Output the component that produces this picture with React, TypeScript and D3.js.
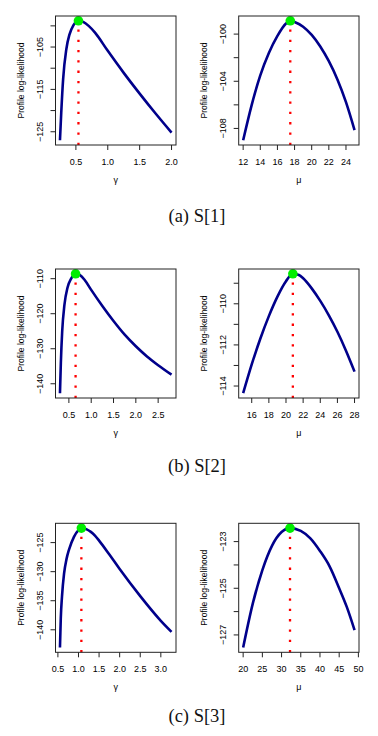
import React from 'react';
import * as d3 from 'd3';

// S[1] profile of gamma
const gammaS1 = [0.25, 0.27, 0.30, 0.35, 0.40, 0.46, 0.54, 0.62, 0.70, 0.80, 1.00, 1.25, 1.50, 1.75, 2.00];
const llGammaS1 = [-127.0, -120.5, -112.5, -105.5, -102.0, -99.9, -98.8, -99.1, -100.0, -101.6, -105.9, -111.1, -116.0, -120.7, -125.2];
// S[1] profile of mu
const muS1 = [12, 13, 14, 15, 16, 17, 17.5, 18, 19, 20, 21, 22, 23, 24, 25];
const llMuS1 = [-109.0, -106.0, -103.5, -101.6, -100.15, -99.1, -98.87, -98.97, -99.37, -100.07, -101.05, -102.3, -103.85, -105.77, -108.14];

// S[2]
const gammaS2 = [0.30, 0.32, 0.35, 0.40, 0.47, 0.55, 0.65, 0.75, 0.85, 1.0, 1.25, 1.5, 1.75, 2.0, 2.25, 2.5, 2.8];
const llGammaS2 = [-142.7, -134.0, -125.0, -117.5, -112.5, -110.0, -108.6, -109.0, -110.3, -113.2, -117.8, -122.1, -126.0, -129.3, -132.2, -134.7, -137.4];
const muS2 = [15, 16, 17, 18, 19, 20, 20.8, 21.5, 22, 23, 24, 25, 26, 27, 28];
const llMuS2 = [-114.35, -112.95, -111.7, -110.6, -109.65, -108.9, -108.54, -108.6, -108.76, -109.25, -109.86, -110.56, -111.36, -112.28, -113.3];

// S[3]
const gammaS3 = [0.55, 0.57, 0.60, 0.65, 0.71, 0.77, 0.89, 1.0, 1.07, 1.2, 1.3, 1.4, 1.5, 1.75, 2.0, 2.5, 3.0, 3.26];
const llGammaS3 = [-143.05, -138.0, -134.2, -130.3, -127.8, -126.2, -124.0, -122.85, -122.5, -122.72, -123.15, -123.8, -124.65, -127.05, -129.55, -134.2, -138.45, -140.35];
const muS3 = [20, 22.5, 25, 27.5, 30, 32.2, 35, 37.5, 40, 42.5, 45, 47, 49];
const llMuS3 = [-127.54, -125.66, -124.22, -123.18, -122.59, -122.42, -122.54, -122.86, -123.4, -124.06, -125.0, -125.81, -126.79];

// tick marks and which of them carry a label
const xTicksGammaS1 = [0.5, 1.0, 1.5, 2.0];
const yTicksGammaS1 = [-125, -120, -115, -110, -105, -100];
const yLabelsGammaS1 = [-125, -115, -105];
const xTicksMuS1 = [12, 14, 16, 18, 20, 22, 24];
const yTicksMuS1 = [-108, -106, -104, -102, -100];
const yLabelsMuS1 = [-108, -104, -100];

const xTicksGammaS2 = [0.5, 1.0, 1.5, 2.0, 2.5];
const yTicksGammaS2 = [-140, -130, -120, -110];
const yLabelsGammaS2 = [-140, -130, -120, -110];
const xTicksMuS2 = [16, 18, 20, 22, 24, 26, 28];
const yTicksMuS2 = [-114, -113, -112, -111, -110, -109];
const yLabelsMuS2 = [-114, -112, -110];

const xTicksGammaS3 = [0.5, 1.0, 1.5, 2.0, 2.5, 3.0];
const yTicksGammaS3 = [-140, -135, -130, -125];
const yLabelsGammaS3 = [-140, -135, -130, -125];
const xTicksMuS3 = [20, 25, 30, 35, 40, 45, 50];
const yTicksMuS3 = [-127, -126, -125, -124, -123];
const yLabelsMuS3 = [-127, -125, -123];

const captions = ['(a) S[1]', '(b) S[2]', '(c) S[3]'];

const FONT = '"Liberation Sans", Arial, Helvetica, sans-serif';
const colLeft = [55.5, 238.7];
const colRight = [176, 359];
const rowTop = [16, 269, 523.3];
const boxH = 129;
const captionY = [222, 472, 722];

// R-style 4% axis expansion
const rpad = (v: number[]) => {
  const [lo, hi] = d3.extent(v) as [number, number];
  const d = (hi - lo) * 0.04;
  return [lo - d, hi + d];
};

function Panel(props: any) {
  const { xs, ys, xTicks, yTicks, yLabels, xFmt, xLabel, col, row } = props;
  const x0 = colLeft[col], x1 = colRight[col];
  const y0 = rowTop[row], y1 = y0 + boxH;

  const x = d3.scaleLinear().domain(rpad(xs)).range([x0, x1]);
  const y = d3.scaleLinear().domain(rpad(ys)).range([y1, y0]);

  const pts = xs.map((v: number, i: number) => [v, ys[i]]);
  const line = d3.line<number[]>()
    .x(d => x(d[0]))
    .y(d => y(d[1]))
    .curve(d3.curveMonotoneX);

  const im = d3.maxIndex(ys);
  const px = x(xs[im]), py = y(ys[im]);
  const fx = d3.format(xFmt);
  const fy = d3.format('d');

  return (
    <g>
      <path d={line(pts) || ''} fill="none" stroke="#00008b" strokeWidth={2.6} />
      <line x1={px} x2={px} y1={y1} y2={py} stroke="#ff0000" strokeWidth={2.3} strokeDasharray="2.3 8" />
      <circle cx={px} cy={py} r={4.8} fill="#00ee00" />
      <rect x={x0} y={y0} width={x1 - x0} height={y1 - y0} fill="none" stroke="#222" strokeWidth={1} />

      {xTicks.map((t: number) => (
        <g key={'x' + t}>
          <line x1={x(t)} x2={x(t)} y1={y1} y2={y1 + 5} stroke="#222" />
          <text x={x(t)} y={y1 + 19.5} textAnchor="middle" fontSize={9} fontFamily={FONT} fill="#000">
            {fx(t)}
          </text>
        </g>
      ))}
      {yTicks.map((t: number) => (
        <g key={'y' + t}>
          <line x1={x0 - 5} x2={x0} y1={y(t)} y2={y(t)} stroke="#222" />
          {yLabels.includes(t) && (
            <text transform={`translate(${x0 - 12.5},${y(t)}) rotate(-90)`} textAnchor="middle"
              fontSize={9} fontFamily={FONT} fill="#000">
              {fy(t)}
            </text>
          )}
        </g>
      ))}

      <text x={(x0 + x1) / 2} y={y1 + 38} textAnchor="middle" fontSize={9} fontFamily={FONT} fill="#000">
        {xLabel}
      </text>
      <text transform={`translate(${x0 - 31.5},${(y0 + y1) / 2}) rotate(-90)`} textAnchor="middle"
        fontSize={8.5} fontFamily={FONT} fill="#000">
        Profile log-likelihood
      </text>
    </g>
  );
}

export default function App() {
  const panels = [
    { xs: gammaS1, ys: llGammaS1, xTicks: xTicksGammaS1, yTicks: yTicksGammaS1, yLabels: yLabelsGammaS1, xFmt: '.1f', xLabel: 'γ', col: 0, row: 0 },
    { xs: muS1, ys: llMuS1, xTicks: xTicksMuS1, yTicks: yTicksMuS1, yLabels: yLabelsMuS1, xFmt: 'd', xLabel: 'μ', col: 1, row: 0 },
    { xs: gammaS2, ys: llGammaS2, xTicks: xTicksGammaS2, yTicks: yTicksGammaS2, yLabels: yLabelsGammaS2, xFmt: '.1f', xLabel: 'γ', col: 0, row: 1 },
    { xs: muS2, ys: llMuS2, xTicks: xTicksMuS2, yTicks: yTicksMuS2, yLabels: yLabelsMuS2, xFmt: 'd', xLabel: 'μ', col: 1, row: 1 },
    { xs: gammaS3, ys: llGammaS3, xTicks: xTicksGammaS3, yTicks: yTicksGammaS3, yLabels: yLabelsGammaS3, xFmt: '.1f', xLabel: 'γ', col: 0, row: 2 },
    { xs: muS3, ys: llMuS3, xTicks: xTicksMuS3, yTicks: yTicksMuS3, yLabels: yLabelsMuS3, xFmt: 'd', xLabel: 'μ', col: 1, row: 2 },
  ];

  return (
    <svg width={378} height={736} style={{ position: 'absolute', left: 0, top: 0, background: '#fff' }}>
      <rect width={378} height={736} fill="#fff" />
      {panels.map((p, i) => <Panel key={i} {...p} />)}
      {captions.map((c, i) => (
        <text key={c} x={197} y={captionY[i]} textAnchor="middle" fontSize={18.5}
          fontFamily='"Liberation Serif", "Times New Roman", serif' fill="#111">
          {c}
        </text>
      ))}
    </svg>
  );
}
